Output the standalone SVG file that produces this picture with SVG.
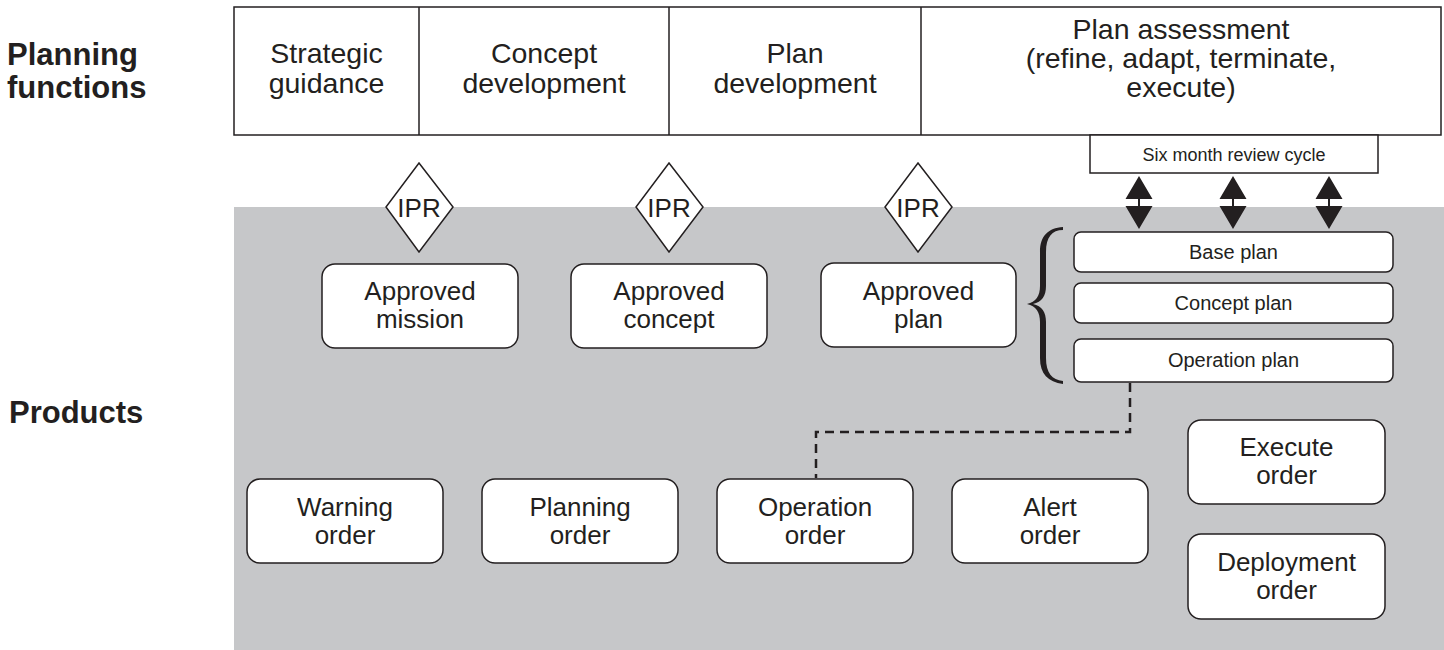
<svg xmlns="http://www.w3.org/2000/svg" width="1444" height="650" viewBox="0 0 1444 650">
<style>
text{font-family:"Liberation Sans",Arial,sans-serif;fill:#231f20;text-anchor:middle}
.lbl{font-weight:bold;font-size:31px;text-anchor:start}
.cell{font-size:28.5px}
.nd{font-size:26px}
.sm{font-size:20px}
.xs{font-size:18px}
.box{fill:#fff;stroke:#231f20;stroke-width:1.5}
.line{fill:none;stroke:#231f20;stroke-width:1.5}
.dash{fill:none;stroke:#231f20;stroke-width:2.5;stroke-dasharray:9 6}
.arr{fill:#231f20}
</style>
<rect width="1444" height="650" fill="#fff"/>
<rect x="234" y="207" width="1210" height="443" fill="#c6c7c9"/>

<g id="side-labels">
<text class="lbl" x="7" y="65">Planning</text>
<text class="lbl" x="7" y="98">functions</text>
<text class="lbl" x="9" y="423">Products</text>
</g>

<g id="planning-functions">
<rect class="line" x="234" y="7" width="1207" height="128" fill="#fff"/>
<line class="line" x1="419" y1="7" x2="419" y2="135"/>
<line class="line" x1="669" y1="7" x2="669" y2="135"/>
<line class="line" x1="921" y1="7" x2="921" y2="135"/>
</g>
<g id="strategic-guidance"><text class="cell" x="326.5" y="63">Strategic</text><text class="cell" x="326.5" y="93">guidance</text></g>
<g id="concept-development"><text class="cell" x="544" y="63">Concept</text><text class="cell" x="544" y="93">development</text></g>
<g id="plan-development"><text class="cell" x="795" y="63">Plan</text><text class="cell" x="795" y="93">development</text></g>
<g id="plan-assessment"><text class="cell" x="1181" y="39">Plan assessment</text><text class="cell" x="1181" y="68">(refine, adapt, terminate,</text><text class="cell" x="1181" y="97">execute)</text></g>

<g id="six-month-review">
<rect class="box" x="1090" y="135" width="288" height="38"/>
<text class="xs" x="1234" y="161">Six month review cycle</text>
</g>

<g id="connectors">
<g id="arrow1"><polygon class="arr" points="1139,176 1152.5,199 1140,199 1140,206 1152.5,206 1139,229 1125.5,206 1138,206 1138,199 1125.5,199"/></g>
<g id="arrow2"><polygon class="arr" points="1233,176 1246.5,199 1234,199 1234,206 1246.5,206 1233,229 1219.5,206 1232,206 1232,199 1219.5,199"/></g>
<g id="arrow3"><polygon class="arr" points="1329,176 1342.5,199 1330,199 1330,206 1342.5,206 1329,229 1315.5,206 1328,206 1328,199 1315.5,199"/></g>
<path class="dash" d="M1130,383 V432 H816 V478"/>
<path id="brace" fill="#231f20" d="M1063,227 C1048,228 1040,236 1040,252 L1040,286 C1040,296 1036,302 1027,304 C1036,306 1040,312 1040,322 L1040,358 C1040,374 1048,382 1063,384 L1063,381 C1052,380 1046,373 1046,358 L1046,322 C1046,312 1042,306 1033,304 C1042,302 1046,296 1046,286 L1046,252 C1046,237 1052,230 1063,230 Z"/>
</g>

<g id="ipr1"><polygon class="box" points="419,163 453,207 419,252 386,207"/><text class="nd" x="419" y="217">IPR</text></g>
<g id="ipr2"><polygon class="box" points="669,163 703,207 669,252 636,207"/><text class="nd" x="669" y="217">IPR</text></g>
<g id="ipr3"><polygon class="box" points="918,163 952,207 918,252 885,207"/><text class="nd" x="918" y="217">IPR</text></g>

<g id="approved-mission"><rect class="box" x="322" y="264" width="196" height="84" rx="13"/><text class="nd" x="420" y="300">Approved</text><text class="nd" x="420" y="328">mission</text></g>
<g id="approved-concept"><rect class="box" x="571" y="264" width="196" height="84" rx="13"/><text class="nd" x="669" y="300">Approved</text><text class="nd" x="669" y="328">concept</text></g>
<g id="approved-plan"><rect class="box" x="821" y="263" width="195" height="84" rx="13"/><text class="nd" x="918.5" y="300">Approved</text><text class="nd" x="918.5" y="328">plan</text></g>

<g id="base-plan"><rect class="box" x="1074" y="232" width="319" height="40" rx="7"/><text class="sm" x="1233.5" y="259">Base plan</text></g>
<g id="concept-plan"><rect class="box" x="1074" y="283" width="319" height="40" rx="7"/><text class="sm" x="1233.5" y="310">Concept plan</text></g>
<g id="operation-plan"><rect class="box" x="1074" y="339" width="319" height="43" rx="7"/><text class="sm" x="1233.5" y="367">Operation plan</text></g>

<g id="warning-order"><rect class="box" x="247" y="479" width="196" height="84" rx="13"/><text class="nd" x="345" y="516">Warning</text><text class="nd" x="345" y="544">order</text></g>
<g id="planning-order"><rect class="box" x="482" y="479" width="196" height="84" rx="13"/><text class="nd" x="580" y="516">Planning</text><text class="nd" x="580" y="544">order</text></g>
<g id="operation-order"><rect class="box" x="717" y="479" width="196" height="84" rx="13"/><text class="nd" x="815" y="516">Operation</text><text class="nd" x="815" y="544">order</text></g>
<g id="alert-order"><rect class="box" x="952" y="479" width="196" height="84" rx="13"/><text class="nd" x="1050" y="516">Alert</text><text class="nd" x="1050" y="544">order</text></g>
<g id="execute-order"><rect class="box" x="1188" y="420" width="197" height="84" rx="13"/><text class="nd" x="1286.5" y="456">Execute</text><text class="nd" x="1286.5" y="484">order</text></g>
<g id="deployment-order"><rect class="box" x="1188" y="534" width="197" height="85" rx="13"/><text class="nd" x="1286.5" y="571">Deployment</text><text class="nd" x="1286.5" y="599">order</text></g>
</svg>
